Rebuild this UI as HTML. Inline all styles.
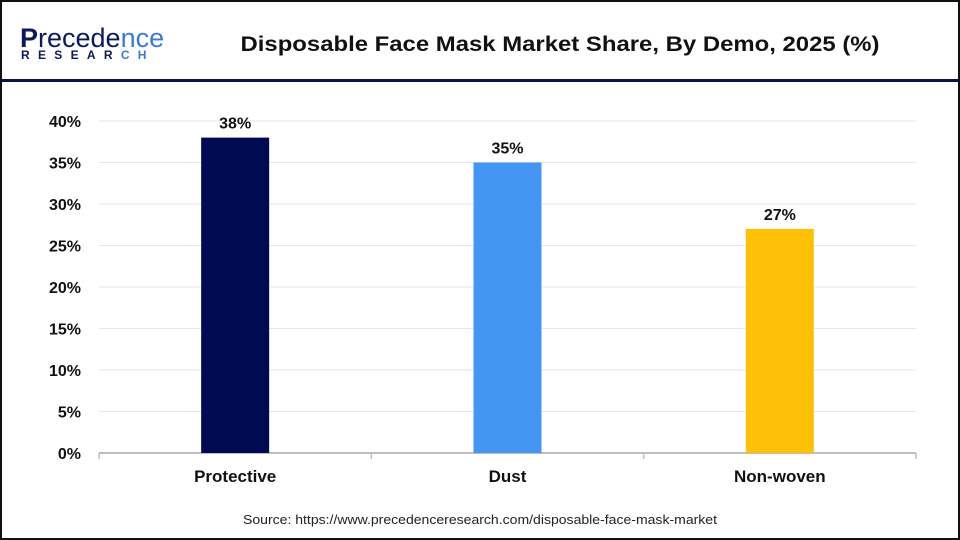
<!DOCTYPE html>
<html><head><meta charset="utf-8"><style>
body{margin:0;width:960px;height:540px;overflow:hidden;background:#fff;font-family:"Liberation Sans",sans-serif}
#frame{position:absolute;left:0;top:0;width:956px;height:536px;border:2px solid #111}
</style></head><body>
<div id="frame"></div>
<svg width="960" height="540" style="position:absolute;left:0;top:0">
<g>
<text x="20" y="47" font-size="27" fill="#0c1a5a" font-weight="bold">P<tspan fill="#0c1a5a" font-weight="normal">recede</tspan><tspan fill="#3a7bd5" font-weight="normal">nce</tspan></text>
<text x="21" y="59" font-size="12" fill="#0c1a5a" font-weight="bold" letter-spacing="8.3">RESEAR<tspan fill="#3a7bd5">CH</tspan></text>
</g>
<text x="560" y="51" text-anchor="middle" font-size="21" font-weight="bold" fill="#111" textLength="639" lengthAdjust="spacingAndGlyphs">Disposable Face Mask Market Share, By Demo, 2025 (%)</text>
<rect x="2" y="79" width="956" height="3" fill="#0c1446"/>
<g id="grid"></g><g id="bars"></g>
<text x="480" y="524" text-anchor="middle" font-size="13" fill="#222" textLength="474" lengthAdjust="spacingAndGlyphs">Source: https://www.precedenceresearch.com/disposable-face-mask-market</text>
</svg>
<script>
const categories=["Protective","Dust","Non-woven"];
const values=[38,35,27];
const valueLabels=["38%","35%","27%"];
const colors=["#000a52","#4596f3","#ffc107"];
const ticks=[0,5,10,15,20,25,30,35,40];
const ns="http://www.w3.org/2000/svg";
const x0=99,x1=916,yBase=453,yTop=121,maxV=40;
const y=v=>yBase-(v/maxV)*(yBase-yTop);
const band=(x1-x0)/categories.length;
const cx=i=>x0+band*(i+0.5);
function mk(t,a,p){const e=document.createElementNS(ns,t);for(const k in a)e.setAttribute(k,a[k]);p.appendChild(e);return e;}
const g=document.getElementById("grid"),b=document.getElementById("bars");
ticks.forEach(t=>{
 if(t>0){const l=mk("line",{x1:x0,x2:x1,y1:y(t),y2:y(t),stroke:"#e6e6e6","stroke-width":1},g);
 
 }
 const tx=mk("text",{x:81,y:y(t)+6,"text-anchor":"end","font-size":16,"font-weight":"bold",fill:"#111"},g);
 tx.textContent=t+"%";
 
 
});
const ax=mk("line",{x1:x0,x2:x1,y1:yBase,y2:yBase,stroke:"#bdbdbd","stroke-width":2},g);


for(let i=0;i<=categories.length;i++){
 const tk=mk("line",{x1:x0+band*i,x2:x0+band*i,y1:yBase,y2:yBase+6,stroke:"#bdbdbd","stroke-width":1.5},g);
 
 
}
categories.forEach((c,i)=>{
 const r=mk("rect",{x:cx(i)-34,y:y(values[i]),width:68,height:yBase-y(values[i]),fill:colors[i]},b);
 
 
 const v=mk("text",{x:cx(i),y:y(values[i])-9,"text-anchor":"middle","font-size":16,"font-weight":"bold",fill:"#111"},b);
 v.textContent=valueLabels[i];
 
 
 const l=mk("text",{x:cx(i),y:482,"text-anchor":"middle","font-size":17,"font-weight":"bold",fill:"#111"},b);
 l.textContent=c;
 
 
});
</script>
</body></html>
